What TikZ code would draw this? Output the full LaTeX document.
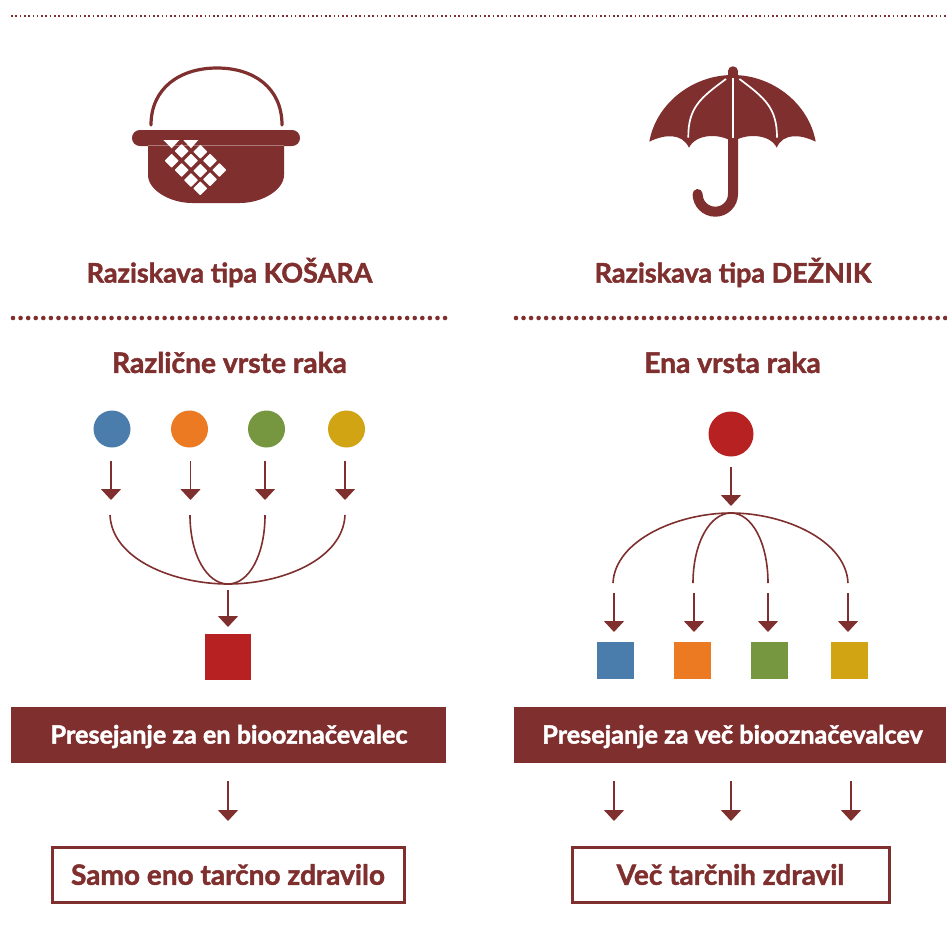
\documentclass[tikz,border=0pt]{standalone}
\usepackage{fontspec}
\setmainfont{Lato}[BoldFeatures={FakeBold=1.6}]
\usetikzlibrary{arrows.meta}
\definecolor{maroon}{HTML}{802F2F}
\definecolor{cblue}{HTML}{4A7DAC}
\definecolor{corange}{HTML}{EC7A23}
\definecolor{cgreen}{HTML}{76973F}
\definecolor{cyellow}{HTML}{D0A413}
\definecolor{cred}{HTML}{B72121}
\tikzset{
  ttl/.style={text=maroon,font=\fontsize{27}{28}\selectfont\bfseries,inner sep=0pt,anchor=center},
  subttl/.style={text=maroon,font=\fontsize{28.2}{28}\selectfont\bfseries,inner sep=0pt,anchor=center},
  bartext/.style={text=white,font=\fontsize{25.2}{26}\selectfont\bfseries,inner sep=0pt,anchor=center},
  boxtext/.style={text=maroon,font=\fontsize{28}{28}\selectfont\bfseries,inner sep=0pt,anchor=center},
  arr/.style={draw=maroon,line width=1.6pt,-{Triangle[width=20pt,length=11pt]}},
  curve/.style={draw=maroon,line width=1.6pt},
  dotline/.style={draw=maroon,line width=4.6pt,line cap=round},
  dia/.style={fill=white,rounded corners=0.6pt},
}
\begin{document}
\begin{tikzpicture}[x=1pt,y=-1pt]
\useasboundingbox (0,0) rectangle (946,948);
\fill[white] (0,0) rectangle (946,948);
% top rule
\draw[draw=maroon,line width=1.6pt,dash pattern=on 1.6pt off 2.7pt] (11,16) -- (946,16);
% basket
\draw[maroon,line width=3.2pt,line cap=round] (151,125) .. controls (151,88) and (180,68) .. (217,68) .. controls (254,68) and (282,88) .. (282,125);
\fill[maroon] (148,145) -- (284,145) -- (284,175) .. controls (284,190) and (262,203) .. (240,203) -- (192,203) .. controls (170,203) and (148,190) .. (148,175) -- cycle;
\fill[maroon,rounded corners=7.9pt] (132,130) rectangle (300,146);
\draw[white,opacity=.35,line width=.5pt] (148,145.2) -- (284,145.2);
\foreach \cx/\cy in {181.7/151,200.3/151.7,171.7/160.7,191/160.7,210/160.7,181.7/170,200.3/170.7,219.3/170,191/180,210/179.3,200.3/188.3}{
  \fill[dia] (\cx,\cy-7) -- (\cx+7,\cy) -- (\cx,\cy+7) -- (\cx-7,\cy) -- cycle;
}
\fill[white] (163.3,140) -- (179.3,140) -- (171.7,148.3) -- cycle;
\fill[white] (183.3,140) -- (198.3,140) -- (191,148.3) -- cycle;
% umbrella
\fill[maroon] (649.3,141.7) .. controls (656,104) and (692,75) .. (732.7,75) .. controls (773,75) and (809,104) .. (815.7,141.7)
  .. controls (800,134) and (783,133) .. (776.7,147.7) .. controls (770,133.5) and (745,133) .. (732.7,142)
  .. controls (720,133) and (696,133.5) .. (689,147.7) .. controls (682,133) and (665,134) .. (649.3,141.7) -- cycle;
\draw[maroon,line width=9.5pt,line cap=round] (733,71) -- (733,75);
\draw[maroon,line width=10pt,line cap=round] (733,138) -- (733,194) arc[start angle=0,end angle=180,x radius=17.7pt,y radius=-17.7pt];
\draw[white,line width=1.7pt] (732.7,78) -- (732.7,137.7);
\draw[white,line width=1.7pt] (726,79) .. controls (700,98) and (688,108) .. (688.3,137.7);
\draw[white,line width=1.7pt] (739.4,79) .. controls (765,98) and (777,108) .. (777,137.7);
% titles
\node[ttl] (t1) at (229.5,272.5) {Raziskava tipa KOŠARA};
\node[ttl] (t2) at (733,272.5) {Raziskava tipa DEŽNIK};
\draw[dotline,dash pattern=on 0pt off 7.58pt] (13,318) -- (446,318);
\draw[dotline,dash pattern=on 0pt off 7.53pt] (516,318) -- (946,318);
\node[subttl] (s1) at (229.5,362.5) {Različne vrste raka};
\node[subttl] (s2) at (732.5,362.5) {Ena vrsta raka};
% left circles
\node[circle,fill=cblue,minimum size=37pt,inner sep=0pt] (c1) at (112,429) {};
\node[circle,fill=corange,minimum size=37pt,inner sep=0pt] (c2) at (189.5,429) {};
\node[circle,fill=cgreen,minimum size=37pt,inner sep=0pt] (c3) at (266.5,429) {};
\node[circle,fill=cyellow,minimum size=37pt,inner sep=0pt] (c4) at (346.5,429) {};
\coordinate (a1s) at (111,461); \coordinate (a1e) at (111,500);
\coordinate (a2s) at (190.5,461); \coordinate (a2e) at (190.5,500);
\coordinate (a3s) at (265,461); \coordinate (a3e) at (265,500);
\coordinate (a4s) at (345,461); \coordinate (a4e) at (345,500);
\foreach \k in {1,2,3,4}{\draw[arr] (a\k s) -- (a\k e);}
\coordinate (lm) at (228,584);
\draw[curve] (110,515) .. controls (112,560) and (175,584) .. (lm) .. controls (281,584) and (343,560) .. (345,515);
\draw[curve] (190,515) .. controls (190,555) and (207,584) .. (lm) .. controls (249,584) and (265,555) .. (265,515);
\coordinate (las) at (228,590);
\node[fill=cred,minimum size=46pt,inner sep=0pt] (sq) at (228,657) {};
\draw[arr] (las) -- (228,627);
% right tree
\node[circle,fill=cred,minimum size=45pt,inner sep=0pt] (cr) at (731,434) {};
\coordinate (ras) at (731,467);
\draw[arr] (ras) -- (731,506);
\coordinate (rm) at (731,513);
\draw[curve] (613,583) .. controls (615,540) and (678,513) .. (rm) .. controls (784,513) and (846,540) .. (848,583);
\draw[curve] (693,583) .. controls (693,543) and (710,513) .. (rm) .. controls (752,513) and (768,543) .. (768,583);
\node[fill=cblue,minimum size=37pt,inner sep=0pt] (q1) at (615.5,660.5) {};
\node[fill=corange,minimum size=37pt,inner sep=0pt] (q2) at (692.5,660.5) {};
\node[fill=cgreen,minimum size=37pt,inner sep=0pt] (q3) at (769.5,660.5) {};
\node[fill=cyellow,minimum size=37pt,inner sep=0pt] (q4) at (849.5,660.5) {};
\draw[arr] (614,593) -- (614,632);
\draw[arr] (694,593) -- (694,632);
\draw[arr] (768,593) -- (768,632);
\draw[arr] (848,593) -- (848,632);
% bars
\node[fill=maroon,minimum width=435pt,minimum height=56pt,inner sep=0pt] (b1) at (228.5,735) {};
\node[fill=maroon,minimum width=432pt,minimum height=56pt,inner sep=0pt] (b2) at (730,735) {};
\node[bartext] at (229,736.5) {Presejanje za en biooznačevalec};
\node[bartext] at (732.5,736.5) {Presejanje za več biooznačevalcev};
\draw[arr] (228,781) -- (228,821);
\draw[arr] (614,781) -- (614,821);
\draw[arr] (731,781) -- (731,821);
\draw[arr] (851,781) -- (851,821);
% result boxes
\node[draw=maroon,line width=2.4pt,minimum width=352pt,minimum height=55pt,inner sep=0pt] (r1) at (228.5,875) {};
\node[draw=maroon,line width=2.4pt,minimum width=317pt,minimum height=55pt,inner sep=0pt] (r2) at (731,875) {};
\node[boxtext] at (228,874.5) {Samo eno tarčno zdravilo};
\node[boxtext] at (730.5,874.5) {Več tarčnih zdravil};
\end{tikzpicture}
\end{document}
